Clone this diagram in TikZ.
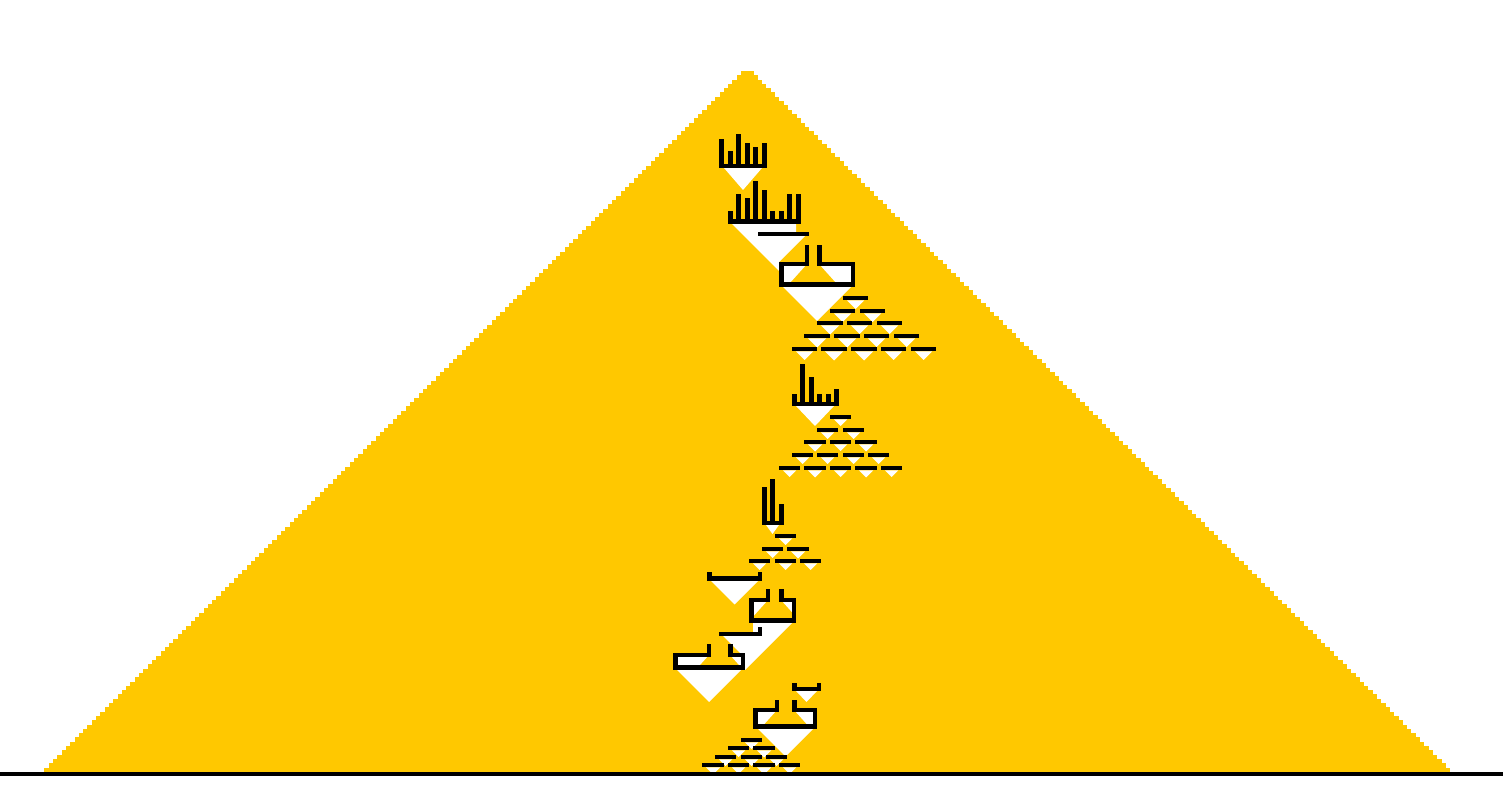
\documentclass[tikz,border=0pt]{standalone}
\definecolor{sand}{RGB}{255,200,0}
\tikzset{
  stone/.style={fill=sand},
  hole/.style={fill=white},
  brick/.style={fill=black},
}
% box with a gap in its lid: x1, x2, y top, y bottom, gap left, gap right, top of stems
\newcommand\crate[7]{
  \fill[hole] ({#1+4.5},{#3+4.5}) rectangle ({#2-4.5},{#4-4.5});
  \fill[stone] (#5,#3) -- (#6,#3) -- ({#6+0.9*(#4-4.5-#3)},{#4-4.5}) -- ({#5-0.9*(#4-4.5-#3)},{#4-4.5}) -- cycle;
  \fill[brick] (#1,#3) rectangle (#5,{#3+4.5});
  \fill[brick] (#6,#3) rectangle (#2,{#3+4.5});
  \fill[brick] ({#5-4.5},#7) rectangle (#5,{#3+4.5});
  \fill[brick] (#6,#7) rectangle ({#6+4.5},{#3+4.5});
  \fill[brick] (#1,#3) rectangle ({#1+4.5},#4);
  \fill[brick] ({#2-4.5},#3) rectangle (#2,#4);
  \fill[brick] (#1,{#4-4.5}) rectangle (#2,#4);
}
\begin{document}
\begin{tikzpicture}[x=0.1mm,y=-0.1mm]
\fill[white] (0,0) rectangle (1503,806);
% the pyramid, row by row
\foreach \i in {0,...,162}
  \fill[stone] ({741-4.3*\i},{71+4.3*\i}) rectangle ({753.5+4.3*\i},{75.6+4.3*\i});

% white holes
\fill[hole] (724,168) -- (762,168) -- (743,190) -- cycle;
\fill[hole] (732,224) -- (796,224) -- (796,236) -- (805,236) -- (779,262) -- (779,271) -- cycle;
\fill[hole] (783,287) -- (851,287) -- (817,321) -- cycle;
\fill[hole] (796,406) -- (834,406) -- (815,426) -- cycle;
\fill[hole] (766,525) -- (779,525) -- (772.5,534) -- cycle;
\fill[hole] (711,581) -- (758,581) -- (734.5,604.5) -- cycle;
\fill[hole] (753,623) -- (792,623) -- (745,670) -- (745,658) -- (723,636) -- (753,636) -- cycle;
\fill[hole] (677,670) -- (741,670) -- (709,702) -- cycle;
\fill[hole] (796,691) -- (817,691) -- (806.5,702) -- cycle;
\fill[hole] (758,729) -- (813,729) -- (785.5,756.5) -- cycle;

% rows of bricks
\def\bricks{843/868/296, 830/855/309, 860/885/309, 817/843/321, 847/872/321, 877/902/321,
  804/830/334, 834/860/334, 864/889/334, 894/919/334,
  792/817/347, 821/847/347, 851/877/347, 881/906/347, 911/936/347,
  830/851/415, 817/838/428, 843/864/428, 804/826/440, 830/851/440, 855/877/440,
  792/813/453, 817/838/453, 843/864/453, 868/889/453,
  779/800/466, 804/826/466, 830/851/466, 855/877/466, 881/902/466,
  775/796/534, 762/783/547, 787/809/547, 749/770/559, 775/796/559, 800/821/559,
  741/762/738, 728/749/746, 753/775/746, 715/736/755, 741/762/755, 766/787/755,
  702/724/763, 728/749/763, 753/775/763, 779/800/763}
\foreach \a/\b/\y in \bricks
  \fill[hole] ({\a+4},{\y+4.5}) -- ({\b-4},{\y+4.5}) -- ({(\a+\b)/2},{\y+0.5+(\b-\a)/2}) -- cycle;

% boxes
\crate{779}{855}{262}{287}{809}{817}{245}
\crate{749}{796}{598}{623}{770}{779}{589}
\crate{673}{745}{653}{670}{711}{728}{644}
\crate{753}{817}{708}{729}{779}{792}{700}

\foreach \a/\b/\y in \bricks
  \fill[brick] (\a,\y) rectangle (\b,{\y+4.5});

% combs
\fill[brick] (719,164) rectangle (766,168.5);
\foreach \x/\y in {719/139, 728/151, 736/134, 745/143, 753/147, 762/143}
  \fill[brick] (\x,\y) rectangle ({\x+4.5},168);
\fill[brick] (728,219) rectangle (800,224);
\foreach \x/\y in {728/211, 736/194, 745/198, 753/181, 762/190, 770/211, 779/211, 787/194, 796/194}
  \fill[brick] (\x,\y) rectangle ({\x+4.5},224);
\fill[brick] (792,402) rectangle (838,406.5);
\foreach \x/\y in {792/394, 800/364, 809/377, 817/394, 826/394, 834/389}
  \fill[brick] (\x,\y) rectangle ({\x+4.5},406);
\fill[brick] (762,521) rectangle (783,525.5);
\foreach \x/\y in {762/487, 770/479, 779/504}
  \fill[brick] (\x,\y) rectangle ({\x+4.5},525);

% single bars and cups
\fill[brick] (758,232) rectangle (809,236.5);
\fill[brick] (707,576) rectangle (762,581);
\fill[brick] (707,572) rectangle (711.5,581);
\fill[brick] (757.5,572) rectangle (762,581);
\fill[brick] (719,632) rectangle (762,636.5);
\fill[brick] (757.5,627) rectangle (762,636);
\fill[brick] (792,687) rectangle (821,691.5);
\fill[brick] (792,683) rectangle (796.5,691);
\fill[brick] (816.5,683) rectangle (821,691);

% ground
\fill[brick] (0,772) rectangle (1503,776.5);
\end{tikzpicture}
\end{document}
